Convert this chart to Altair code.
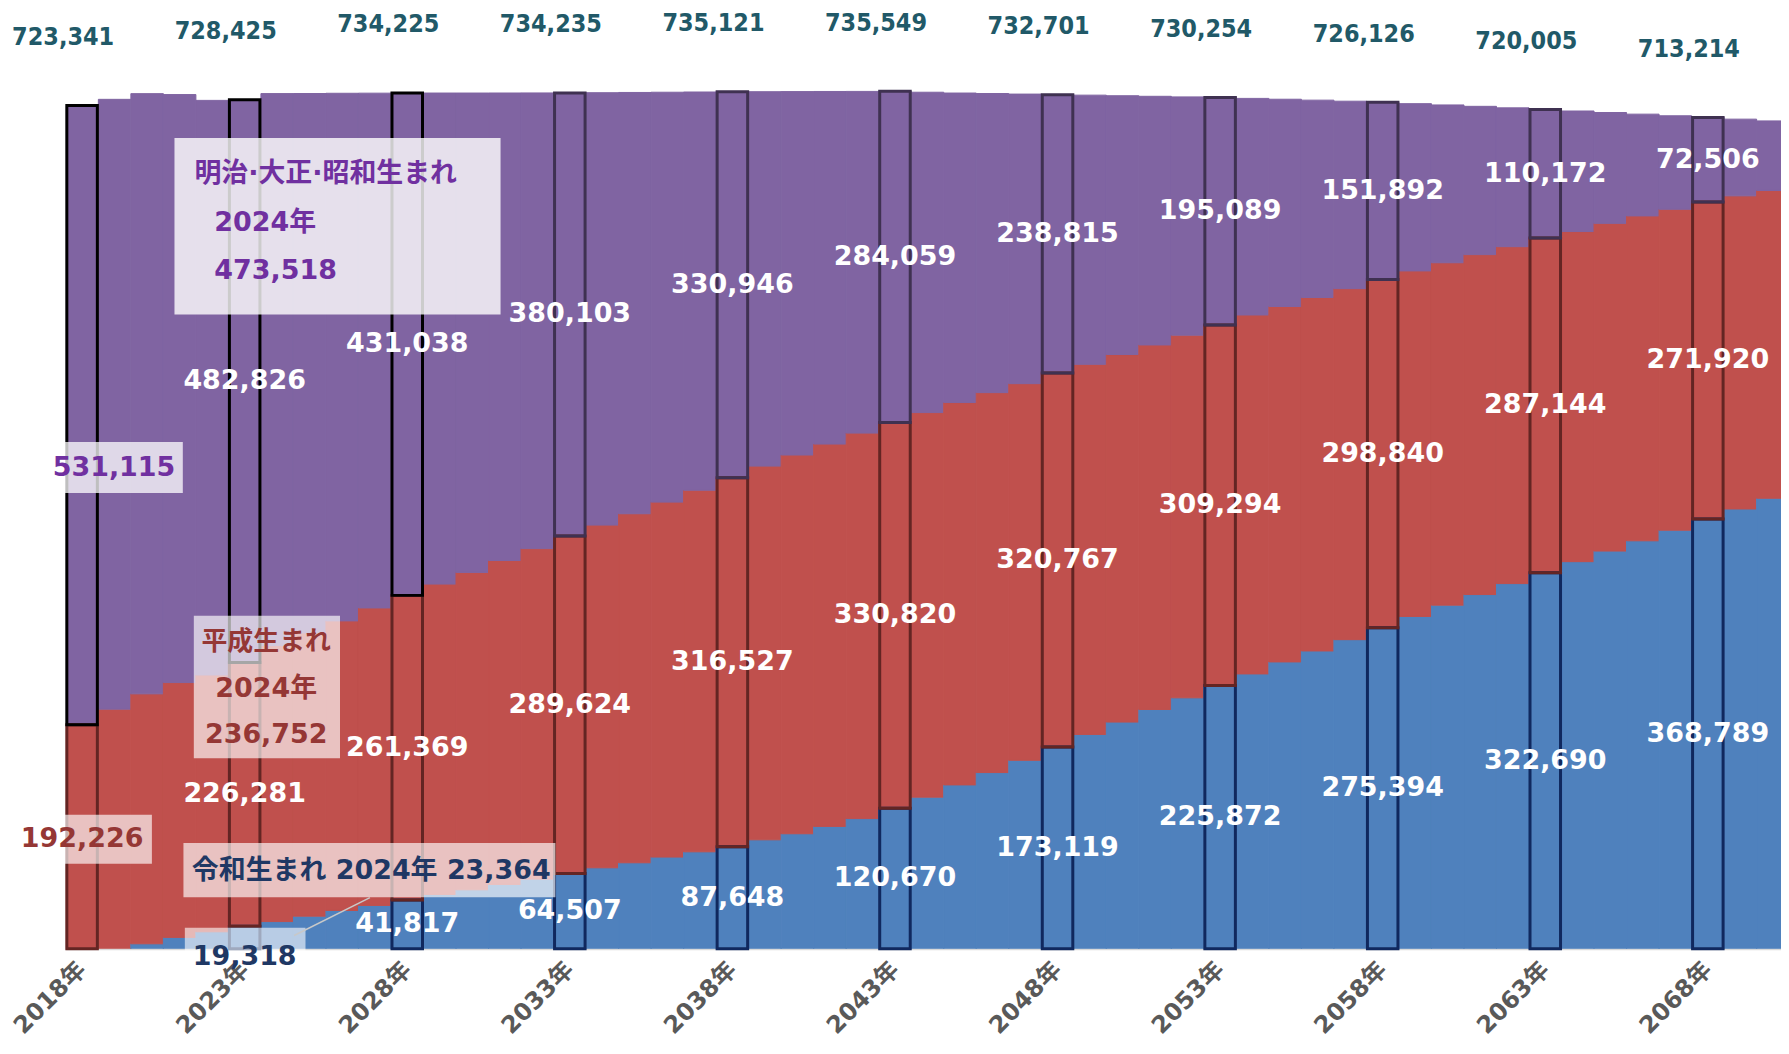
import altair as alt
import pandas as pd

# ---------------- data ----------------
years = list(range(2018, 2071))
seg_names = ["令和生まれ", "平成生まれ", "明治・大正・昭和生まれ"]

reiwa = [0, 0, 4300, 9800, 14600, 19318, 23364, 28000, 32900, 37200,
         41817, 46600, 50600, 55200, 59800, 64507, 69500, 73800, 78700, 83200,
         87648, 93500, 98700, 105000, 111700, 120670, 130100, 140600, 151200, 161700,
         173119, 183900, 194500, 205300, 215300, 225872, 235800, 246100, 255500, 265200,
         275394, 285100, 294800, 303900, 313300, 322690, 332100, 341200, 350000, 359100,
         368789, 377300, 386500]
heisei = [192226, 205600, 214400, 218600, 220300, 226281, 236752, 243000, 248400, 255200,
          261369, 266300, 272300, 277900, 283500, 289624, 294000, 299400, 304500, 310200,
          316527, 320600, 324900, 328000, 330700, 330820, 329900, 328000, 325900, 323100,
          320767, 317500, 315300, 312700, 311100, 309294, 307900, 304900, 303200, 301100,
          298840, 296400, 293700, 291600, 289000, 287144, 283200, 281100, 278700, 275300,
          271920, 268600, 264000]
showa = [531115, 523100, 514900, 504400, 492900, 482826, 473518, 462700, 452600, 441600,
         431038, 421200, 411200, 401050, 390900, 380103, 370900, 361400, 351600, 341600,
         330946, 321150, 311750, 302450, 293100, 284059, 274800, 265500, 256600, 248400,
         238815, 230900, 222000, 213300, 204400, 195089, 185800, 177800, 169300, 160800,
         151892, 143500, 135400, 127200, 119100, 110172, 103400, 95100, 87300, 80200,
         72506, 65800, 59700]

label_years = [2018, 2023, 2028, 2033, 2038, 2043, 2048, 2053, 2058, 2063, 2068]
total_labels = [723341, 728425, 734225, 734235, 735121, 735549, 732701, 730254,
                726126, 720005, 713214]

anno_year = 2024

# ---------------- styles ----------------
COL = {"令和生まれ": "#4f81bd", "平成生まれ": "#c0504d", "明治・大正・昭和生まれ": "#8064a2"}
F = "DejaVu Sans, Noto Sans CJK JP"
FC = "DejaVu Sans Condensed, DejaVu Sans, Noto Sans CJK JP"
PURPLE_T = "#7030a0"
RED_T = "#953735"
NAVY_T = "#1f3864"

# ---------------- tables ----------------
rows, outl = [], []
for i, yr in enumerate(years):
    vals = [reiwa[i], heisei[i], showa[i]]
    base = 0
    for s, v in zip(seg_names, vals):
        if v > 0:
            rows.append({"x": yr - 0.5, "x2": yr + 0.5, "y": base, "y2": base + v, "seg": s})
            if yr in label_years:
                if s == "令和生まれ":
                    sc = "#10285e"
                elif s == "平成生まれ":
                    sc = "#632523"
                else:
                    sc = "#000000" if yr <= 2028 else "#3f3151"
                outl.append({"x": yr - 0.5, "x2": yr + 0.5, "y": base, "y2": base + v, "sc": sc})
        base += v
bars_df = pd.DataFrame(rows)
outl_df = pd.DataFrame(outl)

lab = []
for yr in label_years:
    i = years.index(yr)
    b, r, p = reiwa[i], heisei[i], showa[i]
    if b > 0 and yr != 2023:
        lab.append({"x": yr, "y": b / 2, "v": b})
    if yr != 2018:
        lab.append({"x": yr, "y": b + r / 2, "v": r})
        lab.append({"x": yr, "y": b + r + p / 2, "v": p})
lab_df = pd.DataFrame(lab)

tot_df = pd.DataFrame({"x": label_years,
                       "y": [reiwa[years.index(y)] + heisei[years.index(y)] + showa[years.index(y)]
                             for y in label_years],
                       "v": total_labels})

xs = alt.Scale(domain=[2017.5, 2070.25], nice=False, zero=False)
ys = alt.Scale(domain=[0, 805800], nice=False, zero=True)
xaxis = alt.Axis(values=label_years, labelExpr="datum.value + '年'", labelAngle=-45,
                 labelAlign="right", labelBaseline="middle", labelFont=F,
                 labelFontWeight="bold", labelFontSize=24, labelColor="#595959",
                 ticks=False, grid=False, domainColor="#d9d9d9", domainWidth=2,
                 labelPadding=17, title=None, labelFlush=False, labelOverlap=False)
X = alt.X("x:Q", scale=xs, axis=xaxis)
Y = alt.Y("y:Q", scale=ys, axis=None)
seg_scale = alt.Scale(domain=list(COL.keys()), range=list(COL.values()))


def pt(year, value, text=None):
    d = {"x": [year], "y": [value]}
    if text is not None:
        d["t"] = [text]
    return pd.DataFrame(d)


def box(year, value, l, t, r, b, opacity):
    path = f"M{l},{t}H{r}V{b}H{l}Z"
    return alt.Chart(pt(year, value)).mark_point(
        shape=path, size=4, filled=True, color="white", opacity=opacity, strokeWidth=0
    ).encode(x=X, y=Y)


def txt(year, value, text, dx, dy, color, size=27, align="center", font=F):
    return alt.Chart(pt(year, value, text)).mark_text(
        dx=dx, dy=dy, align=align, baseline="middle", color=color, fontSize=size,
        fontWeight="bold", font=font
    ).encode(x=X, y=Y, text="t:N")


bars = alt.Chart(bars_df).mark_rect(clip=True, strokeWidth=1).encode(
    x=X, x2="x2:Q", y=Y, y2="y2:Q",
    color=alt.Color("seg:N", scale=seg_scale, legend=None),
    stroke=alt.Stroke("seg:N", scale=seg_scale, legend=None))

outlines = alt.Chart(outl_df).mark_rect(fillOpacity=0, strokeWidth=3, xOffset=1, x2Offset=-1).encode(
    x=X, x2="x2:Q", y=Y, y2="y2:Q", stroke=alt.Stroke("sc:N", scale=None))

white_labels = alt.Chart(lab_df).mark_text(
    color="white", fontSize=27, fontWeight="bold", font=F, baseline="middle").encode(
    x=X, y=Y, text=alt.Text("v:Q", format=","))

top_labels = alt.Chart(tot_df).mark_text(
    color="#215968", fontSize=25, fontWeight="bold", font=FC, baseline="middle",
    dx=-19, dy=-69).encode(x=X, y=Y, text=alt.Text("v:Q", format=","))

i18 = years.index(2018)
i23 = years.index(2023)
ia = years.index(anno_year)
p18_mid = heisei[i18] + showa[i18] / 2
r18_mid = heisei[i18] / 2
a_total = reiwa[ia] + heisei[ia] + showa[ia]
a_red_mid = reiwa[ia] + heisei[ia] / 2
a_blue_top = reiwa[ia]

special = [
    box(2018, p18_mid, 32 - 68, 53 - 26, 32 + 69, 53 + 25, 0.75),
    txt(2018, p18_mid, f"{showa[i18]:,}", 32, 53, PURPLE_T),
    box(2018, r18_mid, -71, 2 - 24, 70, 2 + 25, 0.65),
    txt(2018, r18_mid, f"{heisei[i18]:,}", 0, 2, RED_T),
    box(2023, 0, -60, -21, 61, 2, 0.6),
    txt(2023, 0, f"{reiwa[i23]:,}", 0, 8, NAVY_T),
]

anno = [
    box(anno_year, a_total, -103, 44.6, 224, 221.6, 0.8),
    txt(anno_year, a_total, "明治·大正·昭和生まれ", -83, 80.6, PURPLE_T, size=27, align="left"),
    txt(anno_year, a_total, f"{anno_year}年", -63, 129.6, PURPLE_T, size=27, align="left"),
    txt(anno_year, a_total, f"{showa[ia]:,}", -63, 177.6, PURPLE_T, size=27, align="left"),
    box(anno_year, a_red_mid, -83.6, -168.3, 63, -25.3, 0.65),
    txt(anno_year, a_red_mid, "平成生まれ", -11, -141.9, RED_T, size=26),
    txt(anno_year, a_red_mid, f"{anno_year}年", -11, -95.1, RED_T, size=27),
    txt(anno_year, a_red_mid, f"{heisei[ia]:,}", -11, -48.3, RED_T, size=27),
    box(anno_year, a_blue_top, -94, -78.7, 279, -24.4, 0.65),
    txt(anno_year, a_blue_top, f"令和生まれ {anno_year}年 {reiwa[ia]:,}", -85.6, -50.2, NAVY_T,
        size=27, align="left"),
    alt.Chart(pt(anno_year, a_blue_top)).mark_point(
        shape="M17,14L93,-24", size=4, filled=False, color="#c8c8c8", strokeWidth=1.5,
        opacity=1).encode(x=X, y=Y),
]

chart = alt.layer(bars, outlines, white_labels, top_labels, *special, *anno).properties(
    width=1720, height=942,
    autosize=alt.AutoSizeParams(type="none"),
    padding={"left": 58, "top": 0, "right": 0, "bottom": 96},
    background="white",
).configure_view(stroke=None)

chart.save("out.html", embed_options={"renderer": "svg", "actions": False})
